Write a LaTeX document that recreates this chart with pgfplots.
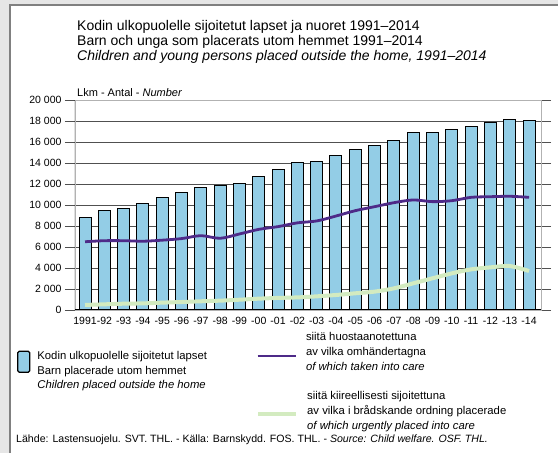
\documentclass[border=0pt]{standalone}
\usepackage{fontspec}
\setmainfont{Liberation Sans}
\usepackage{pgfplots}
\pgfplotsset{compat=1.18}
\definecolor{barblue}{HTML}{93CDE6}
\definecolor{carepurple}{HTML}{4E2A88}
\definecolor{urggreen}{HTML}{D3EBC0}
\definecolor{gridgray}{HTML}{505050}
\definecolor{framegray}{HTML}{E6E6E6}
\pgfplotsset{
  keyaxis/.style={at={(0pt,0pt)}, anchor=south west, scale only axis,
    width=558pt, height=453pt, hide axis, xmin=0, xmax=1, ymin=0, ymax=1},
  keylegend/.style={draw=none, fill=none, inner sep=0pt, anchor=west,
    font=\fontsize{11.3}{14.7}\selectfont,
    nodes={align=left, inner sep=0pt}, cells={anchor=west}},
}
\begin{document}
\begin{tikzpicture}
\useasboundingbox (0pt,0pt) rectangle (558pt,453pt);
\fill[framegray] (0pt,0pt) rectangle (558pt,453pt);
\fill[white] (10pt,0pt) rectangle (558pt,448pt);
\draw[gray, line width=1.2pt] (10pt,0pt) -- (10pt,448pt) -- (558pt,448pt);
\begin{scope}[every node/.style={anchor=base west, inner sep=0pt, font=\fontsize{14}{15}\selectfont}]
\node at (77pt,422.3pt) {Kodin ulkopuolelle sijoitetut lapset ja nuoret 1991–2014};
\node at (77pt,407.3pt) {Barn och unga som placerats utom hemmet 1991–2014};
\node at (77pt,392.3pt) {\textit{Children and young persons placed outside the home, 1991–2014}};
\end{scope}
\node[anchor=base west, inner sep=0pt, font=\fontsize{11}{12}\selectfont] at (77pt,356pt)
  {Lkm - Antal - \textit{Number}};
\node[anchor=base west, inner sep=0pt, font=\fontsize{10.6}{12}\selectfont] at (16pt,10pt)
  {Lähde: Lastensuojelu. SVT. THL. - Källa: Barnskydd. FOS. THL. - \textit{Source: Child welfare. OSF. THL.}};
\begin{axis}[
  at={(75pt,143pt)}, anchor=south west,
  width=466pt, height=210pt, scale only axis,
  ymin=0, ymax=20000, xmin=-0.52, xmax=23.62,
  scaled y ticks=false,
  ytick={0,2000,...,20000},
  yticklabels={0,2 000,4 000,6 000,8 000,10 000,12 000,14 000,16 000,18 000,20 000},
  xtick={0,...,23},
  xticklabels={1991,-92,-93,-94,-95,-96,-97,-98,-99,-00,-01,-02,-03,-04,-05,-06,-07,-08,-09,-10,-11,-12,-13,-14},
  ymajorgrids, major grid style={gridgray, line width=0.9pt},
  tick align=outside, major tick length=10pt,
  ytick style={gridgray, line width=0.9pt}, xtick style={draw=none},
  axis line style={gray!60, line width=0.8pt},
  tick label style={font=\fontsize{10.5}{12}\selectfont},
  x tick label style={yshift=6pt},
]
\addplot[ybar, bar width=12pt, fill=barblue, draw=black, line width=1pt]
  coordinates {(0,8790) (1,9460) (2,9680) (3,10190) (4,10730) (5,11170) (6,11620) (7,11810) (8,12060) (9,12700) (10,13360) (11,14000) (12,14190) (13,14730) (14,15270) (15,15710) (16,16190) (17,16920) (18,16860) (19,17170) (20,17520) (21,17840) (22,18100) (23,18000)};
\addplot[carepurple, line width=2.8pt, smooth]
  coordinates {(0,6500) (1,6600) (2,6600) (3,6550) (4,6650) (5,6800) (6,7080) (7,6830) (8,7240) (9,7680) (10,7940) (11,8300) (12,8480) (13,8950) (14,9460) (15,9840) (16,10220) (17,10480) (18,10320) (19,10410) (20,10730) (21,10790) (22,10830) (23,10730)};
\addplot[urggreen, line width=4pt, smooth]
  coordinates {(0,480) (1,540) (2,600) (3,630) (4,700) (5,760) (6,830) (7,890) (8,980) (9,1080) (10,1150) (11,1200) (12,1300) (13,1430) (14,1590) (15,1750) (16,2060) (17,2540) (18,3020) (19,3490) (20,3870) (21,4060) (22,4190) (23,3710)};
\draw[black, line width=1pt] (rel axis cs:0,1) -- (rel axis cs:0,0) -- (rel axis cs:1,0);
\end{axis}
% legend: bars
\begin{axis}[keyaxis, legend style={keylegend, at={(axis description cs:0.030466,0.18212)}, column sep=7pt}]
\addlegendimage{legend image code/.code={\draw[fill=barblue,draw=black,line width=1.2pt,rounded corners=1.5pt] (0pt,-1.5pt) rectangle (12pt,19.5pt);}}
\addlegendentry{Kodin ulkopuolelle sijoitetut lapset\\Barn placerade utom hemmet\\\textit{Children placed outside the home}}
\end{axis}
% legend: taken into care
\begin{axis}[keyaxis, legend style={keylegend, at={(axis description cs:0.458781,0.222958)}, column sep=9pt}]
\addlegendimage{legend image code/.code={\draw[carepurple,line width=2.8pt] (0pt,-4pt) -- (38pt,-4pt);}}
\addlegendentry{siitä huostaanotettuna\\av vilka omhändertagna\\\textit{of which taken into care}}
\end{axis}
% legend: urgently placed
\begin{axis}[keyaxis, legend style={keylegend, at={(axis description cs:0.458781,0.092715)}, column sep=9pt}]
\addlegendimage{legend image code/.code={\draw[urggreen,line width=4pt] (0pt,-3pt) -- (38pt,-3pt);}}
\addlegendentry{siitä kiireellisesti sijoitettuna\\av vilka i brådskande ordning placerade\\\textit{of which urgently placed into care}}
\end{axis}
\end{tikzpicture}
\end{document}
